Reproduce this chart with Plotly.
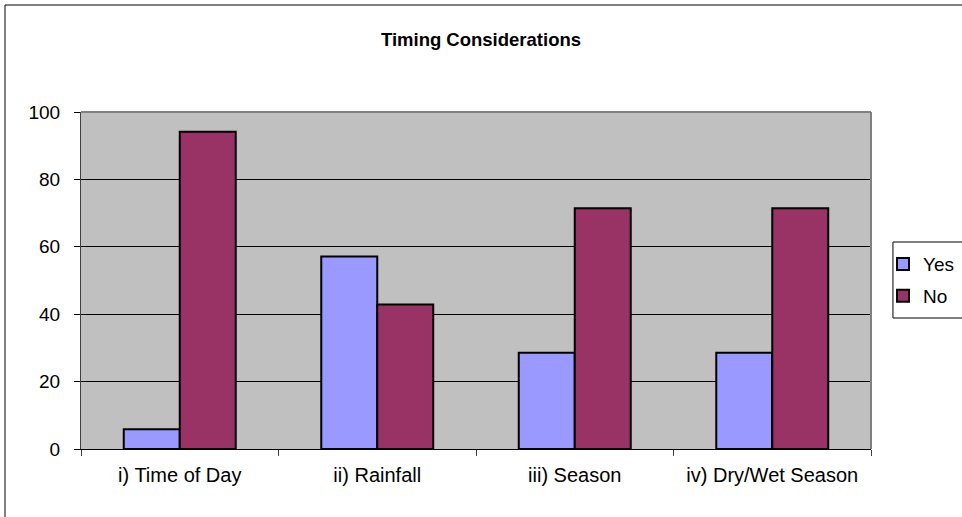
import plotly.graph_objects as go

categories = ["i) Time of Day", "ii) Rainfall", "iii) Season", "iv) Dry/Wet Season"]
yes_values = [5.88, 57.14, 28.57, 28.57]
no_values = [94.12, 42.86, 71.43, 71.43]
y_ticks = [0, 20, 40, 60, 80, 100]

FONT = "Liberation Sans, Arial, sans-serif"

fig = go.Figure()
fig.add_trace(go.Bar(
    name="Yes", x=categories, y=yes_values, legendgroup="a",
    marker=dict(color="#9999FF", line=dict(color="#000000", width=2)),
))
fig.add_trace(go.Bar(
    name="No", x=categories, y=no_values, legendgroup="b",
    marker=dict(color="#993366", line=dict(color="#000000", width=2)),
))

fig.update_layout(
    width=962, height=517,
    margin=dict(l=81, r=91, t=112, b=68, autoexpand=False),
    paper_bgcolor="white",
    plot_bgcolor="#C0C0C0",
    barmode="group",
    bargap=0.433,
    bargroupgap=0,
    font=dict(family=FONT, size=19, color="black"),
    title=dict(text="<b>Timing Considerations</b>", x=0.5, xref="container",
               y=1 - 40 / 517, yref="container", yanchor="middle", xanchor="center",
               font=dict(family=FONT, size=18.5, color="black")),
    legend=dict(x=1.0152, y=0.605, xanchor="left", yanchor="top",
                bgcolor="rgba(0,0,0,0)", borderwidth=0,
                traceorder="grouped", tracegroupgap=4,
                font=dict(family=FONT, size=19, color="black")),
    xaxis=dict(showline=True, linecolor="black", linewidth=1,
               ticks="outside", tickson="boundaries", ticklen=6, tickcolor="#404040",
               showgrid=False, ticklabelstandoff=8,
               tickfont=dict(family=FONT, size=20, color="black")),
    yaxis=dict(range=[0, 100], tickvals=y_ticks, showline=True, linecolor="#404040",
               linewidth=1, ticks="outside", ticklen=6, tickcolor="black",
               showgrid=True, gridcolor="#000000", gridwidth=1, zeroline=False,
               ticklabelstandoff=10),
    shapes=[
        dict(type="line", xref="paper", yref="paper", x0=0, x1=1, y0=1, y1=1,
             line=dict(color="#808080", width=2)),
        dict(type="line", xref="paper", yref="paper", x0=1, x1=1, y0=0, y1=1,
             line=dict(color="#808080", width=2)),
        dict(type="rect", xref="paper", yref="paper", x0=-0.0962, x1=1.3, y0=-0.4, y1=1.3175,
             line=dict(color="black", width=1)),
        dict(type="rect", xref="paper", yref="paper", x0=1.0278, x1=1.2, y0=0.3887, y1=0.6142,
             line=dict(color="black", width=1)),
    ],
)

fig.write_html("out.html", config={"displayModeBar": False},
               post_script="document.body.style.margin='0';")
